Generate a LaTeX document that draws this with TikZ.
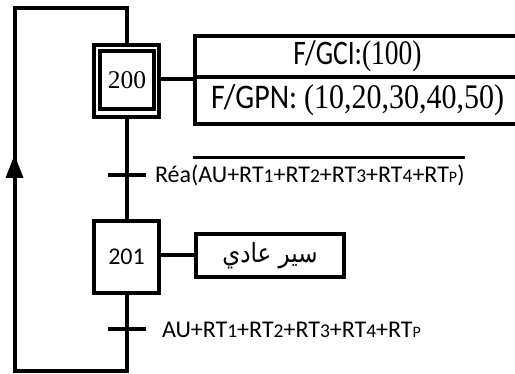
\documentclass[tikz,border=0pt]{standalone}
\usepackage{fontspec}
\setmainfont{Carlito}
\newfontfamily\tnr{Liberation Serif}
\newfontfamily\arabicfont[Script=Arabic]{DejaVu Sans}
\TeXXeTstate=1
\newcommand{\smd}[1]{{\fontsize{19.5}{19.5}\selectfont #1}}
\newcommand{\smp}[1]{{\fontsize{16}{16}\selectfont #1}}
\begin{document}
\begin{tikzpicture}[x=1pt,y=-1pt, line width=4pt, line join=miter,
  stepbox/.style={draw, minimum width=65pt, minimum height=72pt, inner sep=0pt},
  actbox/.style={draw, inner sep=0pt},
  trlabel/.style={anchor=base west, inner sep=0pt, outer sep=0pt, font=\fontsize{24}{24}\selectfont}]
\useasboundingbox (0,0) rectangle (515,374);
% steps
\node[stepbox] (s200) at (126.5,81) {};
\node[draw, minimum width=54pt, minimum height=58pt, inner sep=0pt, font=\tnr\fontsize{25.5}{25.5}\selectfont] (s200i) at (127,80.5) {200};
\node[stepbox, font=\fontsize{24}{24}\selectfont] (s201) at (126.5,257) {201};
% actions
\node[actbox, font=\fontsize{27.5}{27.5}\selectfont, minimum width=325pt, minimum height=41pt] (a1) at (357.5,56.5) {\scalebox{1}[1.25]{F/GCI:{\tnr(100)}}};
\node[actbox, font=\fontsize{30}{30}\selectfont, minimum width=325pt, minimum height=47pt] (a2) at (357.5,100.5) {\scalebox{1}[1.15]{F/GPN: {\tnr(10,20,30,40,50)}}};
\node[actbox, minimum width=148pt, minimum height=43pt, font=\arabicfont\fontsize{23}{23}\selectfont] (a3) at (270,255.5) {\scalebox{1}[1.15]{\beginR سير عادي\endR}};
% links
\draw (s200.east |- a1.south) -- (a1.south west);
\draw (s201.east |- a3.west) -- (a3.west);
% transitions
\coordinate (t1) at (126.5,175);
\coordinate (t2) at (126.5,329);
\draw (s200.south) -- (s201.north);
\draw ([xshift=-19pt]t1) -- ([xshift=19pt]t1);
\draw ([xshift=-19pt]t2) -- ([xshift=19pt]t2);
% loop
\coordinate (bl) at (14.5,371.5);
\coordinate (tl) at (14.5,8);
\draw (s201.south) -- (s201.south |- bl) -- (bl) -- (tl) -- (tl -| s200.north) -- (s200.north);
\fill (14.5,155) -- (23.5,178) -- (5.5,178) -- cycle;
% labels
\node[trlabel] (l1a) at (155,183) {Réa};
\node[trlabel] (l1b) at (l1a.base east) {(AU+RT\smd{1}+RT\smd{2}+RT\smd{3}+RT\smd{4}+RT\smp{P})};
\draw[line width=3.5pt] ([yshift=8pt,xshift=2pt]l1b.north west) -- ([yshift=8pt]l1b.north east);
\node[trlabel] (l2) at (162,338) {AU+RT\smd{1}+RT\smd{2}+RT\smd{3}+RT\smd{4}+RT\smp{P}};
\end{tikzpicture}
\end{document}
